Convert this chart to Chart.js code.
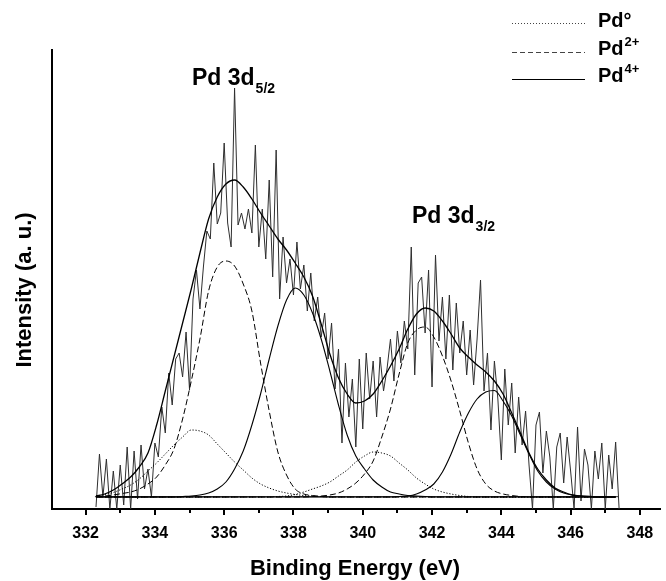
<!DOCTYPE html>
<html>
<head>
<meta charset="utf-8">
<script src="https://cdn.jsdelivr.net/npm/chart.js@4.4.0/dist/chart.umd.min.js"></script>
<style>
  html, body { margin: 0; padding: 0; background: #fff; }
  #chart { display: block; }
</style>
</head>
<body>
<canvas id="chart" width="666" height="581"></canvas>
<script>
// Pd 3d XPS spectrum: raw counts + fitted components (intensity in arbitrary units)
const FONT = '"Liberation Sans", Arial, Helvetica, sans-serif';

const majorTicks = [332, 334, 336, 338, 340, 342, 344, 346, 348];
const minorTicks = [333, 335, 337, 339, 341, 343, 345, 347];

// raw spectrum, 0.1 eV steps
const rawEnergy = [
  332.3, 332.4, 332.5, 332.6, 332.7, 332.8, 332.9,
  333.0, 333.1, 333.2, 333.3, 333.4, 333.5, 333.6, 333.7, 333.8, 333.9,
  334.0, 334.1, 334.2, 334.3, 334.4, 334.5, 334.6, 334.7, 334.8, 334.9,
  335.0, 335.1, 335.2, 335.3, 335.4, 335.5, 335.6, 335.7, 335.8, 335.9,
  336.0, 336.1, 336.2, 336.3, 336.4, 336.5, 336.6, 336.7, 336.8, 336.9,
  337.0, 337.1, 337.2, 337.3, 337.4, 337.5, 337.6, 337.7, 337.8, 337.9,
  338.0, 338.1, 338.2, 338.3, 338.4, 338.5, 338.6, 338.7, 338.8, 338.9,
  339.0, 339.1, 339.2, 339.3, 339.4, 339.5, 339.6, 339.7, 339.8, 339.9,
  340.0, 340.1, 340.2, 340.3, 340.4, 340.5, 340.6, 340.7, 340.8, 340.9,
  341.0, 341.1, 341.2, 341.3, 341.4, 341.5, 341.6, 341.7, 341.8, 341.9,
  342.0, 342.1, 342.2, 342.3, 342.4, 342.5, 342.6, 342.7, 342.8, 342.9,
  343.0, 343.1, 343.2, 343.3, 343.4, 343.5, 343.6, 343.7, 343.8, 343.9,
  344.0, 344.1, 344.2, 344.3, 344.4, 344.5, 344.6, 344.7, 344.8, 344.9,
  345.0, 345.1, 345.2, 345.3, 345.4, 345.5, 345.6, 345.7, 345.8, 345.9,
  346.0, 346.1, 346.2, 346.3, 346.4, 346.5, 346.6, 346.7, 346.8, 346.9,
  347.0, 347.1, 347.2, 347.3, 347.4
];
const rawCounts = [
  2, 55, 12, 50, 0, 38, 0,
  44, 4, 62, 0, 58, 10, 64, 20, 40, 12,
  66, 52, 102, 76, 136, 104, 150, 156, 132, 177,
  119, 210, 239, 200, 242, 278, 270, 346, 285, 296,
  366, 286, 262, 421, 284, 296, 280, 300, 276, 364,
  262, 300, 250, 329, 232, 359, 210, 272, 226, 250,
  214, 267, 220, 244, 198, 236, 188, 212, 172, 196,
  150, 186, 120, 160, 66, 146, 92, 130, 62, 150,
  80, 156, 110, 148, 92, 152, 118, 140, 170, 128,
  178, 146, 188, 160, 262, 134, 226, 232, 176, 239,
  122, 254, 168, 212, 150, 214, 139, 206, 156, 188,
  134, 179, 124, 170, 229, 118, 156, 79, 148, 110,
  49, 140, 84, 126, 56, 112, 64, 98, 44, 0,
  84, 97, 36, 78, 52, 0, 62, 76, 26, 72,
  38, 0, 82, 8, 60, 44, 0, 58, 30, 66,
  0, 54, 20, 67, 0
];

// fitted curves, 0.25 eV steps
const fitEnergy = [
  332.30, 332.55, 332.80, 333.05, 333.30, 333.55, 333.80, 334.05, 334.30, 334.55,
  334.80, 335.05, 335.30, 335.55, 335.80, 336.05, 336.30, 336.55, 336.80, 337.05,
  337.30, 337.55, 337.80, 338.05, 338.30, 338.55, 338.80, 339.05, 339.30, 339.55,
  339.80, 340.05, 340.30, 340.55, 340.80, 341.05, 341.30, 341.55, 341.80, 342.05,
  342.30, 342.55, 342.80, 343.05, 343.30, 343.55, 343.80, 344.05, 344.30, 344.55,
  344.80, 345.05, 345.30, 345.55, 345.80, 346.05, 346.30, 346.55, 346.80, 347.05,
  347.30
];
const envelope = [
  13, 15, 19, 25, 32, 42, 56, 84, 118, 152,
  186, 220, 256, 290, 312, 325, 329, 322, 310, 296,
  283, 270, 259, 246, 232, 213, 185, 155, 131, 115,
  106, 108, 115, 128, 143, 160, 180, 195, 201, 198,
  188, 175, 161, 152, 144, 137, 128, 115, 96, 76,
  56, 40, 29, 21, 17, 14, 13, 12.5, 12, 12,
  12
];
const pd0A = [
  13, 14.5, 16.5, 20, 24, 30, 38, 46, 55, 64,
  72, 79, 78, 74, 65, 56, 47, 39, 31, 25,
  21, 18, 16, 14.5, 13.5, 13, 12.5, 12, 12, 12,
  12, 12, 12, 12, 12, 12, 12, 12, 12, 12,
  12, 12, 12, 12, 12, 12, 12, 12, 12, 12,
  12, 12, 12, 12, 12, 12, 12, 12, 12, 12,
  12
];
const pd0B = [
  12, 12, 12, 12, 12, 12, 12, 12, 12, 12,
  12, 12, 12, 12, 12, 12, 12, 12, 12, 12,
  12, 12.5, 13, 14.5, 17, 20, 23, 27, 33, 39,
  47, 53, 57, 56, 53, 46, 39, 31, 25, 20,
  17, 15, 13.5, 12.5, 12, 12, 12, 12, 12, 12,
  12, 12, 12, 12, 12, 12, 12, 12, 12, 12,
  12
];
const pd2A = [
  12.5, 13, 14, 15.5, 17, 20, 25, 32, 44, 60,
  90, 128, 170, 218, 242, 248, 243, 225, 198, 146,
  98, 57, 34, 20, 15, 13.5, 12.5, 12, 12, 12,
  12, 12, 12, 12, 12, 12, 12, 12, 12, 12,
  12, 12, 12, 12, 12, 12, 12, 12, 12, 12,
  12, 12, 12, 12, 12, 12, 12, 12, 12, 12,
  12
];
const pd2B = [
  12, 12, 12, 12, 12, 12, 12, 12, 12, 12,
  12, 12, 12, 12, 12, 12, 12, 12, 12, 12,
  12, 12, 12, 12, 12, 12.5, 13, 14, 16, 20,
  26, 35, 48, 72, 100, 135, 166, 179, 182, 172,
  153, 128, 98, 66, 40, 25, 18, 15, 13.5, 12.5,
  12, 12, 12, 12, 12, 12, 12, 12, 12, 12,
  12
];
const pd4A = [
  12, 12, 12, 12, 12, 12, 12, 12, 12, 12,
  12.5, 13, 14, 16, 20, 27, 40, 58, 84, 115,
  150, 183, 209, 221, 214, 196, 170, 138, 104, 74,
  53, 40, 29, 22, 17, 15, 13.5, 13, 12.5, 12,
  12, 12, 12, 12, 12, 12, 12, 12, 12, 12,
  12, 12, 12, 12, 12, 12, 12, 12, 12, 12,
  12
];
const pd4B = [
  12, 12, 12, 12, 12, 12, 12, 12, 12, 12,
  12, 12, 12, 12, 12, 12, 12, 12, 12, 12,
  12, 12, 12, 12, 12, 12, 12, 12, 12, 12,
  12, 12, 12, 12, 12, 12.5, 13, 15, 19, 25,
  37, 55, 77, 96, 110, 117, 118.5, 108, 93, 74,
  55, 38, 27, 20, 16, 14, 13, 12.5, 12, 12,
  12
];
const baseEnergy = [332.27, 347.37];
const baseLevel = [12.3, 12.3];

const pairs = (xs, ys) => xs.map((x, i) => ({ x: x, y: ys[i] }));

function fitLine(values, dash, width) {
  return {
    data: pairs(fitEnergy, values),
    borderColor: '#000',
    borderWidth: width,
    borderDash: dash,
    cubicInterpolationMode: 'monotone',
    pointRadius: 0,
    fill: false
  };
}

// draws minor ticks, titles, peak labels and the legend
const decorPlugin = {
  id: 'decor',
  afterDraw(chart) {
    const { ctx, chartArea, scales } = chart;
    ctx.save();
    ctx.strokeStyle = '#000';
    ctx.lineWidth = 2;
    minorTicks.forEach(v => {
      const x = Math.round(scales.x.getPixelForValue(v));
      ctx.beginPath();
      ctx.moveTo(x, chartArea.bottom);
      ctx.lineTo(x, chartArea.bottom + 4);
      ctx.stroke();
    });

    ctx.fillStyle = '#000';
    ctx.textBaseline = 'alphabetic';
    ctx.font = 'bold 22px ' + FONT;
    ctx.textAlign = 'center';
    ctx.fillText('Binding Energy (eV)', 355, 575);
    ctx.save();
    ctx.translate(31, 290);
    ctx.rotate(-Math.PI / 2);
    ctx.fillText('Intensity (a. u.)', 0, 0);
    ctx.restore();

    ctx.textAlign = 'left';
    const subLabel = (main, sub, x, y) => {
      ctx.font = 'bold 23px ' + FONT;
      ctx.fillText(main, x, y);
      const w = ctx.measureText(main).width;
      ctx.font = 'bold 14px ' + FONT;
      ctx.fillText(sub, x + w + 1, y + 8);
    };
    subLabel('Pd 3d', '5/2', 192, 85);
    subLabel('Pd 3d', '3/2', 412, 223);

    // legend
    const rows = [
      { dash: [1, 2], color: '#444', ly: 23, ty: 27, main: 'Pd°', sup: '' },
      { dash: [5, 3], color: '#444', ly: 52, ty: 55, main: 'Pd', sup: '2+' },
      { dash: [], color: '#000', ly: 79, ty: 82, main: 'Pd', sup: '4+' }
    ];
    rows.forEach(r => {
      ctx.strokeStyle = r.color;
      ctx.lineWidth = 1;
      ctx.setLineDash(r.dash);
      ctx.beginPath();
      ctx.moveTo(512, r.ly + 0.5);
      ctx.lineTo(585, r.ly + 0.5);
      ctx.stroke();
      ctx.setLineDash([]);
      ctx.font = 'bold 20px ' + FONT;
      ctx.fillText(r.main, 598, r.ty);
      if (r.sup) {
        const w = ctx.measureText(r.main).width;
        ctx.font = 'bold 13px ' + FONT;
        ctx.fillText(r.sup, 598 + w + 1, r.ty - 9);
      }
    });
    ctx.restore();
  }
};

const ctx = document.getElementById('chart').getContext('2d');
new Chart(ctx, {
  type: 'line',
  data: {
    datasets: [
      fitLine(envelope, [], 1.3),
      fitLine(pd4A, [], 1.1),
      fitLine(pd4B, [], 1.1),
      fitLine(pd2A, [6, 3], 1),
      fitLine(pd2B, [6, 3], 1),
      fitLine(pd0A, [1.2, 1.8], 1),
      fitLine(pd0B, [1.2, 1.8], 1),
      {
        data: pairs(baseEnergy, baseLevel),
        borderColor: '#222',
        borderWidth: 1,
        pointRadius: 0
      },
      {
        data: pairs(rawEnergy, rawCounts),
        borderColor: '#2e2e2e',
        borderWidth: 1,
        pointRadius: 0,
        tension: 0
      }
    ]
  },
  options: {
    responsive: false,
    animation: false,
    layout: { padding: { top: 50, right: 6, left: 0, bottom: 0 } },
    plugins: { legend: { display: false }, tooltip: { enabled: false } },
    scales: {
      x: {
        type: 'linear',
        min: 331.03,
        max: 348.58,
        afterBuildTicks: s => { s.ticks = majorTicks.map(v => ({ value: v })); },
        afterFit: s => { s.height = 72; },
        grid: { drawOnChartArea: false, tickLength: 6, color: '#000', lineWidth: 2 },
        border: { color: '#000', width: 2 },
        ticks: {
          color: '#000',
          font: { family: FONT, size: 16, weight: 'bold' },
          padding: 9,
          maxRotation: 0,
          autoSkip: false
        }
      },
      y: {
        min: 0,
        max: 459,
        afterFit: s => { s.width = 52; },
        ticks: { display: false },
        grid: { display: false },
        border: { color: '#000', width: 2 }
      }
    }
  },
  plugins: [decorPlugin]
});
</script>
</body>
</html>
